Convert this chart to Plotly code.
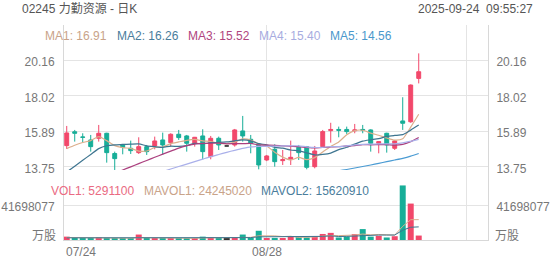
import plotly.graph_objects as go

# ---------------- data ----------------
x_idx = list(range(45))
x_labels = {0: "07/24", 25: "08/28"}

opens = [15.03, 15.86, 15.55, 15.37, 15.47, 15.77, 14.56, 15.07, 14.87, 14.61,
         14.97, 15.01, 15.37, 15.21, 15.71, 15.61, 15.17, 15.61, 14.37, 15.47,
         15.01, 15.07, 15.91, 15.41, 15.11, 14.17, 14.81, 14.13, 14.23, 14.93,
         14.97, 13.77, 14.97, 15.93, 16.00, 16.00, 15.92, 16.00, 15.97, 15.17,
         15.77, 14.87, 16.51, 16.46, 19.06]
closes = [15.79, 15.77, 15.53, 14.97, 15.77, 14.61, 14.25, 14.93, 14.73, 14.97,
          14.67, 15.31, 15.07, 15.71, 15.51, 15.17, 15.53, 14.67, 15.47, 15.07,
          15.01, 15.97, 15.61, 15.17, 13.87, 14.41, 14.07, 14.19, 14.33, 14.61,
          13.73, 14.71, 15.87, 16.00, 15.95, 15.87, 15.97, 15.96, 15.17, 15.27,
          15.07, 15.31, 16.37, 18.66, 19.46]
highs = [16.21, 15.97, 15.77, 15.67, 16.27, 15.80, 14.67, 15.11, 15.33, 15.53,
         15.07, 15.57, 15.81, 15.77, 15.97, 15.67, 15.55, 16.01, 15.61, 15.57,
         15.01, 16.03, 16.81, 15.67, 15.17, 14.47, 15.11, 14.77, 15.33, 15.07,
         15.01, 15.01, 15.97, 16.40, 16.17, 16.17, 16.33, 16.27, 16.01, 15.27,
         15.80, 15.37, 17.93, 18.70, 20.56]
lows = [14.83, 15.27, 15.23, 14.67, 15.27, 14.01, 13.57, 14.51, 14.53, 14.53,
        14.47, 14.81, 14.47, 14.97, 15.37, 14.67, 14.97, 14.21, 14.21, 14.77,
        15.01, 14.97, 15.27, 14.57, 13.61, 14.10, 13.77, 13.87, 13.87, 14.17,
        13.61, 13.67, 14.90, 15.21, 15.53, 15.73, 15.77, 15.77, 14.67, 14.57,
        14.61, 14.77, 15.97, 16.40, 18.76]

ma1 = [14.85, 15.05, 15.22, 15.33, 15.57, 15.33, 15.03, 14.91, 14.86, 14.70,
       14.71, 14.92, 14.95, 15.15, 15.25, 15.35, 15.40, 15.32, 15.27, 15.18,
       15.15, 15.24, 15.43, 15.37, 15.13, 15.01, 14.63, 14.34, 14.17, 14.32,
       14.19, 14.31, 14.65, 14.98, 15.25, 15.68, 15.93, 15.95, 15.78, 15.65,
       15.49, 15.36, 15.44, 16.14, 16.91]
ma2 = [13.45, 13.80, 14.15, 14.50, 14.85, 15.02, 15.08, 15.10, 15.12, 15.13,
       15.02, 14.97, 14.93, 15.00, 14.98, 15.03, 15.16, 15.13, 15.21, 15.22,
       15.25, 15.32, 15.37, 15.32, 15.15, 15.08, 14.93, 14.88, 14.77, 14.72,
       14.60, 14.47, 14.50, 14.58, 14.79, 14.93, 15.12, 15.30, 15.38, 15.45,
       15.58, 15.64, 15.69, 15.96, 16.26]
ma3 = [12.30, 12.48, 12.67, 12.85, 13.03, 13.21, 13.39, 13.57, 13.76, 13.95,
       14.14, 14.33, 14.52, 14.70, 14.88, 15.03, 15.12, 15.16, 15.17, 15.18,
       15.14, 15.15, 15.15, 15.16, 15.07, 15.06, 15.05, 15.01, 14.99, 14.97,
       14.92, 14.89, 14.93, 14.95, 14.97, 15.01, 15.03, 15.09, 15.08, 15.09,
       15.09, 15.06, 15.10, 15.27, 15.52]
ma4 = [11.30, 11.50, 11.70, 11.90, 12.10, 12.30, 12.48, 12.65, 12.78, 12.87,
       13.10, 13.30, 13.47, 13.63, 13.78, 13.92, 14.07, 14.22, 14.37, 14.50,
       14.63, 14.75, 14.86, 14.95, 14.98, 14.99, 15.00, 15.01, 15.02, 15.02,
       14.96, 14.92, 14.93, 14.97, 14.97, 15.01, 15.07, 15.11, 15.12, 15.13,
       15.14, 15.14, 15.19, 15.29, 15.40]
ma5 = [10.49, 10.58, 10.67, 10.76, 10.85, 10.94, 11.03, 11.12, 11.21, 11.30,
       11.39, 11.48, 11.57, 11.66, 11.75, 11.84, 11.93, 12.02, 12.11, 12.20,
       12.29, 12.38, 12.47, 12.56, 12.65, 12.74, 12.83, 12.93, 13.02, 13.11,
       13.20, 13.28, 13.36, 13.44, 13.52, 13.60, 13.69, 13.78, 13.87, 13.97,
       14.07, 14.17, 14.27, 14.40, 14.56]

volumes = [4.0e6, 1.8e6, 1.5e6, 1.8e6, 3.2e6, 2.5e6, 2.0e6, 1.5e6, 1.5e6, 6.5e6,
           1.8e6, 2.0e6, 1.8e6, 2.2e6, 1.8e6, 2.0e6, 2.2e6, 4.0e6, 2.8e6, 1.8e6,
           1.5e6, 3.5e6, 6.5e6, 2.5e6, 11.0e6, 2.2e6, 2.5e6, 2.2e6, 4.5e6, 3.8e6,
           3.2e6, 4.2e6, 7.2e6, 8.5e6, 3.0e6, 4.0e6, 7.0e6, 13.0e6, 4.0e6, 5.0e6,
           3.0e6, 4.5e6, 65.0e6, 43.4e6, 5.2911e6]
mavol1 = [3.0e6, 2.8e6, 2.5e6, 2.3e6, 2.46e6, 2.16e6, 2.2e6, 2.2e6, 2.14e6, 2.8e6,
          2.66e6, 2.66e6, 2.72e6, 2.86e6, 1.92e6, 1.96e6, 2.0e6, 2.44e6, 2.56e6, 2.56e6,
          2.46e6, 2.72e6, 3.22e6, 3.16e6, 5.0e6, 5.14e6, 4.94e6, 4.08e6, 4.48e6, 3.04e6,
          3.24e6, 3.58e6, 4.58e6, 5.38e6, 5.22e6, 5.38e6, 5.94e6, 7.1e6, 6.2e6, 6.6e6,
          6.4e6, 5.9e6, 16.3e6, 24.18e6, 24.245e6]
mavol2 = [2.6e6, 2.6e6, 2.5e6, 2.5e6, 2.5e6, 2.4e6, 2.4e6, 2.4e6, 2.3e6, 2.63e6,
          2.41e6, 2.43e6, 2.46e6, 2.5e6, 2.36e6, 2.31e6, 2.33e6, 2.58e6, 2.71e6, 2.24e6,
          2.21e6, 2.36e6, 2.83e6, 2.86e6, 3.78e6, 3.8e6, 3.83e6, 3.65e6, 3.82e6, 4.02e6,
          4.19e6, 4.26e6, 4.33e6, 4.93e6, 4.13e6, 4.31e6, 4.76e6, 5.84e6, 5.79e6, 5.91e6,
          5.89e6, 5.92e6, 11.7e6, 15.19e6, 15.62e6]

price_ticks = [20.16, 18.02, 15.89, 13.75]
vol_tick = 41698077
vol_unit = "万股"
ma_labels = ["MA1: 16.91", "MA2: 16.26", "MA3: 15.52", "MA4: 15.40", "MA5: 14.56"]
vol_labels = ["VOL1: 5291100", "MAVOL1: 24245020", "MAVOL2: 15620910"]

# ---------------- styles ----------------
UP = "#f2486b"
DOWN = "#17ae98"
FLAT = "#333333"
MA_COLORS = ["#dcae8c", "#3e7590", "#ab3f7e", "#aab0ea", "#4a9bd3"]
MA_TEXT = ["#c9a389", "#4a7d9c", "#b0457e", "#a7acdf", "#4a98cc"]
GRID = "#e4e4e4"
TICKC = "#777777"
FONT = "Liberation Sans, Arial, Noto Sans CJK SC, sans-serif"
W, H = 552, 265
L, R, T, B = 64, 64, 25, 25
PW, PH = W - L - R, H - T - B

fig = go.Figure()

main = [i for i in x_idx if opens[i] != closes[i]]
flat = [i for i in x_idx if opens[i] == closes[i]]

fig.add_trace(go.Candlestick(
    x=[x_idx[i] for i in main], open=[opens[i] for i in main],
    high=[highs[i] for i in main], low=[lows[i] for i in main],
    close=[closes[i] for i in main],
    increasing=dict(line=dict(color=UP, width=1), fillcolor=UP),
    decreasing=dict(line=dict(color=DOWN, width=1), fillcolor=DOWN),
    whiskerwidth=0, xaxis="x", yaxis="y", showlegend=False, hoverinfo="skip"))
fig.add_trace(go.Candlestick(
    x=[x_idx[i] for i in flat], open=[opens[i] for i in flat],
    high=[highs[i] for i in flat], low=[lows[i] for i in flat],
    close=[closes[i] for i in flat],
    increasing=dict(line=dict(color=FLAT, width=1), fillcolor=FLAT),
    decreasing=dict(line=dict(color=FLAT, width=1), fillcolor=FLAT),
    whiskerwidth=0, xaxis="x", yaxis="y", showlegend=False, hoverinfo="skip"))

for ma, c in zip([ma1, ma2, ma3, ma4, ma5], MA_COLORS):
    fig.add_trace(go.Scatter(x=x_idx, y=ma, mode="lines",
                             line=dict(color=c, width=1.2, shape="spline", smoothing=0.6),
                             xaxis="x", yaxis="y", showlegend=False, hoverinfo="skip"))

vol_colors = [UP if c > o else (DOWN if c < o else FLAT) for o, c in zip(opens, closes)]
fig.add_trace(go.Bar(x=x_idx, y=volumes, marker=dict(color=vol_colors, line=dict(width=0)),
                     xaxis="x2", yaxis="y2", showlegend=False, hoverinfo="skip"))
for mv, c in zip([mavol1, mavol2], [MA_COLORS[0], MA_COLORS[1]]):
    fig.add_trace(go.Scatter(x=x_idx, y=mv, mode="lines", line=dict(color=c, width=1),
                             xaxis="x2", yaxis="y2", showlegend=False, hoverinfo="skip"))

def px_x(px):
    return (px - L) / PW

def px_y(py):
    return (H - B - py) / PH

price_bottom_px = 182
vol_top_px = 170
price_dom = [px_y(price_bottom_px), 1]
vol_dom = [0, px_y(vol_top_px)]

xr = [-0.34, 52.66]
common_x = dict(range=xr, tickvals=[25, 50], showticklabels=False, showgrid=True,
                gridcolor=GRID, gridwidth=1, zeroline=False, ticks="", fixedrange=True,
                automargin=False)

tickfont = dict(family=FONT, size=12, color=TICKC)
yc = dict(zeroline=False, showline=True, linecolor="#d8d8d8", ticks="",
          tickfont=tickfont, automargin=False, ticklabelshift=2)
fig.update_layout(
    width=W, height=H, margin=dict(l=L, r=R, t=T, b=B, autoexpand=False),
    paper_bgcolor="white", plot_bgcolor="white", bargap=0.25,
    font=dict(family=FONT, size=12, color=TICKC),
    xaxis=dict(**common_x, anchor="y", rangeslider=dict(visible=False)),
    xaxis2=dict(**common_x, anchor="y2", matches="x", showline=True, linecolor="#d8d8d8"),
    yaxis=dict(domain=price_dom, range=[12.85, 22.26], tickvals=price_ticks,
               ticktext=[f"{v:.2f}" for v in price_ticks], showgrid=True, gridcolor=GRID,
               ticklabelstandoff=6, anchor="x", **yc),
    yaxis3=dict(overlaying="y", side="right", range=[12.85, 22.26], tickvals=price_ticks,
                ticktext=[f"{v:.2f}" for v in price_ticks], showgrid=False,
                ticklabelstandoff=5, anchor="x", **yc),
    yaxis2=dict(domain=vol_dom, range=[0, 2 * vol_tick], tickvals=[vol_tick],
                ticktext=[str(vol_tick)], showgrid=True, gridcolor=GRID,
                ticklabelstandoff=6, anchor="x2", **yc),
    yaxis4=dict(overlaying="y2", side="right", range=[0, 2 * vol_tick], tickvals=[vol_tick],
                ticktext=[str(vol_tick)], showgrid=False,
                ticklabelstandoff=5, anchor="x2", **yc),
)

# dummy traces so right axes render
fig.add_trace(go.Scatter(x=[None], y=[None], xaxis="x", yaxis="y3", showlegend=False))
fig.add_trace(go.Scatter(x=[None], y=[None], xaxis="x2", yaxis="y4", showlegend=False))

ann = []
ann.append(dict(text="02245 力勤资源 - 日K", x=px_x(20), y=px_y(9), xref="paper", yref="paper",
                xanchor="left", yanchor="middle", showarrow=False,
                font=dict(family=FONT, size=12, color="#555")))
ann.append(dict(text="2025-09-24\u00a0\u00a009:55:27", x=px_x(535), y=px_y(9), xref="paper",
                yref="paper", xanchor="right", yanchor="middle", showarrow=False,
                font=dict(family=FONT, size=12, color="#555")))
for t, px0, c in zip(ma_labels, [43, 115, 186, 257, 328], MA_TEXT):
    ann.append(dict(text=t, x=px_x(px0), y=px_y(36), xref="paper", yref="paper",
                    xanchor="left", yanchor="middle", showarrow=False,
                    font=dict(family=FONT, size=12, color=c)))
for t, px0, c in zip(vol_labels, [49, 142, 259], ["#ea6a82", MA_TEXT[0], MA_TEXT[1]]):
    ann.append(dict(text=t, x=px_x(px0), y=px_y(191), xref="paper", yref="paper",
                    xanchor="left", yanchor="middle", showarrow=False,
                    font=dict(family=FONT, size=12, color=c)))
# unit labels at the bottom of the volume axis, both sides
ann.append(dict(text=vol_unit, x=px_x(58), y=px_y(236), xref="paper", yref="paper",
                xanchor="right", yanchor="middle", showarrow=False, font=tickfont))
ann.append(dict(text=vol_unit, x=px_x(493), y=px_y(236), xref="paper", yref="paper",
                xanchor="left", yanchor="middle", showarrow=False, font=tickfont))
for xi, lab in x_labels.items():
    ann.append(dict(text=lab, x=xi, y=px_y(252), xref="x2", yref="paper",
                    xanchor="left" if xi == 0 else "center", xshift=-3 if xi == 0 else 0,
                    yanchor="middle", showarrow=False,
                    font=dict(family=FONT, size=12, color=TICKC)))
fig.update_layout(annotations=ann)

fig.write_html("out.html")
